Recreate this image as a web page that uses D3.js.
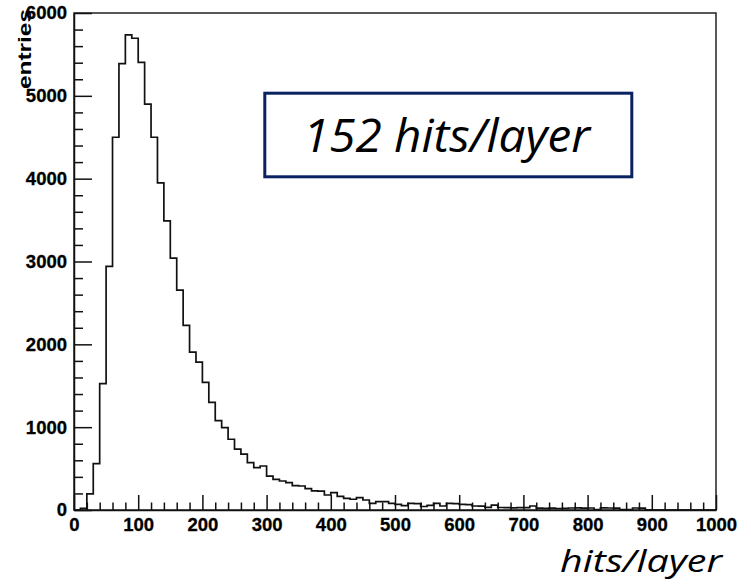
<!DOCTYPE html>
<html>
<head>
<meta charset="utf-8">
<script src="https://cdn.jsdelivr.net/npm/d3@7"></script>
<style>
  html, body { margin: 0; padding: 0; background: #fff; }
  svg { display: block; }
</style>
</head>
<body>
<svg id="chart" width="751" height="584"></svg>
<script>
// ---- data ----
const xMin = 0, xMax = 1000, binWidth = 10;
const counts = [
  0, 20, 195, 560, 1525, 2940, 4500, 5390, 5735, 5695,
  5405, 4900, 4500, 3950, 3490, 3040, 2655, 2230, 1905, 1785,
  1540, 1300, 1078, 994, 854, 735, 674, 571, 511, 531,
  410, 370, 350, 330, 295, 290, 258, 232, 228, 181,
  209, 165, 141, 130, 149, 121, 81, 100, 100, 81,
  69, 52, 81, 78, 42, 55, 80, 48, 80, 78,
  69, 66, 48, 46, 32, 60, 30, 28, 26, 28,
  28, 48, 22, 20, 22, 18, 20, 24, 25, 22,
  24, 5, 25, 24, 22, 6, 4, 24, 22, 2,
  0, 0, 0, 0, 0, 0, 0, 0, 0, 0
];
const yMajorTicks = [0, 1000, 2000, 3000, 4000, 5000, 6000];
const xMajorTicks = [0, 100, 200, 300, 400, 500, 600, 700, 800, 900, 1000];
const yTitle = "entries";
const xTitle = "hits/layer";
const boxText = "152 hits/layer";

(function () {
  const svg = d3.select("#chart");
  const mLeft = 74, mRight = 716, mTop = 13, mBottom = 510;
  const x = d3.scaleLinear().domain([xMin, xMax]).range([mLeft, mRight]);
  const y = d3.scaleLinear().domain([0, 6000]).range([mBottom, mTop]);

  const labelFont = "'Liberation Sans', Arial, Helvetica, sans-serif";

  // frame
  svg.append("rect")
    .attr("x", mLeft).attr("y", mTop)
    .attr("width", mRight - mLeft).attr("height", mBottom - mTop)
    .attr("fill", "none").attr("stroke", "#222").attr("stroke-width", 1.5);

  // histogram
  const pts = counts.map((c, i) => [xMin + i * binWidth, c]);
  pts.push([xMax, counts[counts.length - 1]]);
  const line = d3.line().x(d => x(d[0])).y(d => y(d[1])).curve(d3.curveStepAfter);
  svg.append("path").datum(pts)
    .attr("d", line).attr("fill", "none")
    .attr("stroke", "#111").attr("stroke-width", 1.7);

  // y axis minor ticks
  const yMinor = d3.range(0, 6001, 200).filter(v => v % 1000 !== 0);
  svg.append("g").attr("transform", `translate(${mLeft},0)`)
    .call(d3.axisLeft(y).tickValues(yMinor).tickSize(-9).tickFormat(""))
    .call(g => g.select(".domain").remove())
    .selectAll("line").attr("stroke", "#111").attr("stroke-width", 1.5);

  // y axis major
  const yAxisG = svg.append("g").attr("transform", `translate(${mLeft},0)`)
    .call(d3.axisLeft(y).tickValues(yMajorTicks).tickSizeInner(-18).tickSizeOuter(0).tickPadding(7).tickFormat(d3.format("d")));
  yAxisG.select(".domain").attr("stroke", "#111").attr("stroke-width", 1.5);
  yAxisG.selectAll("line").attr("stroke", "#111").attr("stroke-width", 1.5);
  yAxisG.selectAll("text")
    .attr("font-family", labelFont).attr("font-weight", "bold")
    .attr("font-size", 18.5).attr("fill", "#000")
    .attr("stroke", "#000").attr("stroke-width", 0.3);

  // x axis minor ticks
  const xMinor = d3.range(0, 1001, 20).filter(v => v % 100 !== 0);
  svg.append("g").attr("transform", `translate(0,${mBottom})`)
    .call(d3.axisBottom(x).tickValues(xMinor).tickSize(-7.5).tickFormat(""))
    .call(g => g.select(".domain").remove())
    .selectAll("line").attr("stroke", "#111").attr("stroke-width", 1.5);

  // x axis major
  const xAxisG = svg.append("g").attr("transform", `translate(0,${mBottom})`)
    .call(d3.axisBottom(x).tickValues(xMajorTicks).tickSizeInner(-15).tickSizeOuter(0).tickPadding(8).tickFormat(d3.format("d")));
  xAxisG.select(".domain").attr("stroke", "#111").attr("stroke-width", 1.5);
  xAxisG.selectAll("line").attr("stroke", "#111").attr("stroke-width", 1.5);
  xAxisG.selectAll("text")
    .attr("font-family", labelFont).attr("font-weight", "bold")
    .attr("font-size", 18.5).attr("fill", "#000")
    .attr("stroke", "#000").attr("stroke-width", 0.3);

  // y title (rotated)
  svg.append("text")
    .attr("transform", "translate(31,9) rotate(-90)")
    .attr("text-anchor", "end")
    .attr("font-family", labelFont).attr("font-weight", "bold")
    .attr("font-size", 19).attr("fill", "#000")
    .attr("textLength", 80).attr("lengthAdjust", "spacingAndGlyphs")
    .text(yTitle);

  // x title
  svg.append("text")
    .attr("x", 722).attr("y", 572)
    .attr("text-anchor", "end")
    .attr("font-family", "'Open Sans', 'Noto Sans', sans-serif")
    .attr("font-style", "italic")
    .attr("font-size", 31).attr("fill", "#000")
    .attr("textLength", 162).attr("lengthAdjust", "spacingAndGlyphs")
    .text(xTitle);

  // annotation box
  svg.append("rect")
    .attr("x", 264.8).attr("y", 93.2)
    .attr("width", 367).attr("height", 83.6)
    .attr("fill", "#fff").attr("stroke", "#0b2262").attr("stroke-width", 3);
  svg.append("text")
    .attr("x", 303).attr("y", 152)
    .attr("font-family", "'Open Sans', 'Noto Sans', sans-serif")
    .attr("font-style", "italic")
    .attr("font-size", 45).attr("fill", "#000")
    .attr("textLength", 287).attr("lengthAdjust", "spacingAndGlyphs")
    .text(boxText);
})();
</script>
</body>
</html>
